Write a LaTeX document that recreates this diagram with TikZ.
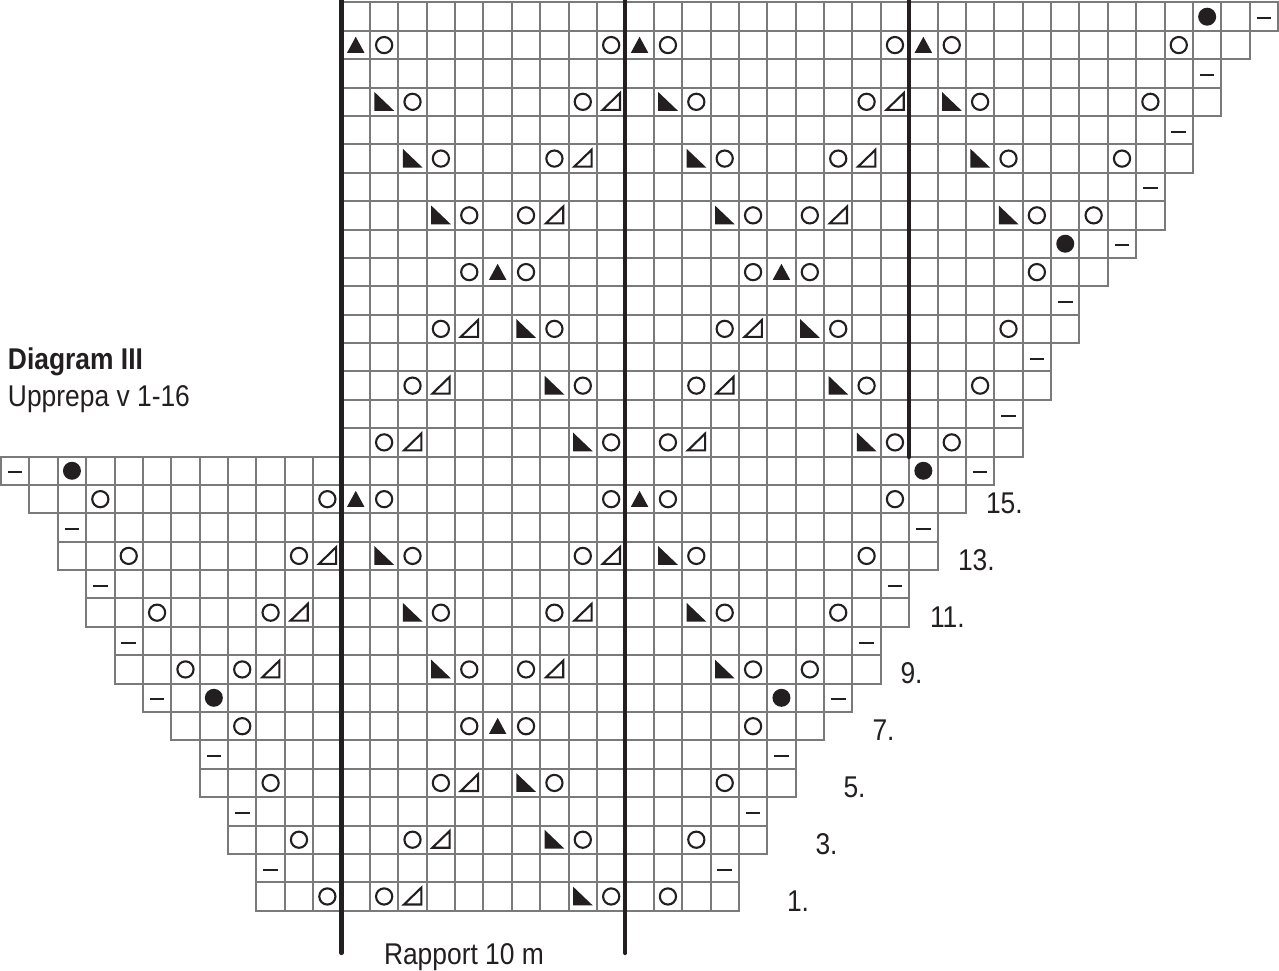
\documentclass[tikz,border=0pt]{standalone}
\usepackage{fontspec}
\setmainfont[FakeStretch=0.88]{Liberation Sans}
\definecolor{ink}{HTML}{231F20}
\definecolor{gridc}{HTML}{7A7A7A}
\newcommand{\CW}{28.38}
\newcommand{\cellat}{({1+\CW*(\c+.5)},{2.5+\CW*(32-\r+.5)})}
\tikzset{
  gridcell/.style={draw=gridc,line width=2pt,fill=white},
  repline/.style={draw=ink,line width=4.2pt,line cap=round},
  mark stroke/.style={draw=ink,line width=2.1pt},
  mark fill/.style={fill=ink,draw=none},
  lbl/.style={anchor=base west,inner sep=0pt,outer sep=0pt,text=ink,font=\fontsize{30}{36}\selectfont},
}
\begin{document}
\begin{tikzpicture}[x=1pt,y=-1pt]
\useasboundingbox[fill=white] (0,0) rectangle (1279,971);
% grid: row / first column / last column
\foreach \r/\a/\b in {32/12/44,31/12/43,30/12/42,29/12/42,28/12/41,27/12/41,26/12/40,25/12/40,
  24/12/39,23/12/38,22/12/37,21/12/37,20/12/36,19/12/36,18/12/35,17/12/35,
  16/0/34,15/1/33,14/2/32,13/2/32,12/3/31,11/3/31,10/4/30,9/4/30,8/5/29,7/6/28,6/7/27,5/7/27,4/8/26,3/8/26,2/9/25,1/9/25}{
  \foreach \c in {\a,...,\b}{
    \path[gridcell] ({1+\CW*\c},{2.5+\CW*(32-\r)}) rectangle ++(\CW,\CW);
  }
}
% repeat lines
\coordinate (la) at (341.4,-3);
\coordinate (lb) at (341.4,953);
\coordinate (ma) at (625.2,-3);
\coordinate (mb) at (625.2,953);
\coordinate (ra) at (909,-3);
\coordinate (rb) at (909,457);
\draw[repline] (la) -- (lb);
\draw[repline] (ma) -- (mb);
\draw[repline] (ra) -- (rb);
% yarn overs (open circles)
\foreach \r/\c in {31/13,31/21,31/23,31/31,31/33,31/41,
  29/14,29/20,29/24,29/30,29/34,29/40,
  27/15,27/19,27/25,27/29,27/35,27/39,
  25/16,25/18,25/26,25/28,25/36,25/38,
  23/16,23/18,23/26,23/28,23/36,
  21/15,21/19,21/25,21/29,21/35,
  19/14,19/20,19/24,19/30,19/34,
  17/13,17/21,17/23,17/31,17/33,
  15/3,15/11,15/13,15/21,15/23,15/31,
  13/4,13/10,13/14,13/20,13/24,13/30,
  11/5,11/9,11/15,11/19,11/25,11/29,
  9/6,9/8,9/16,9/18,9/26,9/28,
  7/8,7/16,7/18,7/26,
  5/9,5/15,5/19,5/25,
  3/10,3/14,3/20,3/24,
  1/11,1/13,1/21,1/23}{
  \draw[mark stroke,shift={\cellat}] (0,0) circle (8.1);
}
% filled circles
\foreach \r/\c in {32/42,24/37,16/2,16/32,8/7,8/27}{
  \fill[mark fill,shift={\cellat}] (0,0) circle (9);
}
% filled up triangles
\foreach \r/\c in {31/12,31/22,31/32,23/17,23/27,15/12,15/22,7/17}{
  \fill[mark fill,shift={\cellat}] (0,-8.3) -- (8.7,7.7) -- (-8.7,7.7) -- cycle;
}
% filled right triangles
\foreach \r/\c in {29/13,29/23,29/33,27/14,27/24,27/34,25/15,25/25,25/35,
  21/18,21/28,19/19,19/29,17/20,17/30,
  13/13,13/23,11/14,11/24,9/15,9/25,
  5/18,3/19,1/20}{
  \fill[mark fill,shift={\cellat}] (-9.7,-9.8) -- (10,9) -- (-9.7,9) -- cycle;
}
% open right triangles
\foreach \r/\c in {29/21,29/31,27/20,27/30,25/19,25/29,
  21/16,21/26,19/15,19/25,17/14,17/24,
  13/11,13/21,11/10,11/20,9/9,9/19,
  5/16,3/15,1/14}{
  \draw[mark stroke,line join=miter,shift={\cellat}] (-8.5,8) -- (8.8,8) -- (8.8,-8.8) -- cycle;
}
% dashes
\foreach \r/\c in {32/44,30/42,28/41,26/40,24/39,22/37,20/36,18/35,
  16/0,16/34,14/2,14/32,12/3,12/31,10/4,10/30,8/5,8/29,6/7,6/27,4/8,4/26,2/9,2/25}{
  \draw[draw=ink,line width=2pt,shift={\cellat}] (-7.3,1.5) -- (7.3,1.5);
}
% texts
\node[lbl,font=\fontsize{30}{36}\selectfont\bfseries] (title) at (8,369) {Diagram III};
\node[lbl] (sub) at (8,406) {Upprepa v 1-16};
\node[lbl] (rap) at (384,964) {Rapport 10 m};
\node[lbl] (n15) at (986,513) {15.};
\node[lbl] (n13) at (958,570) {13.};
\node[lbl] (n11) at (930,627) {11.};
\node[lbl] (n9) at (900.5,683) {9.};
\node[lbl] (n7) at (872.5,740) {7.};
\node[lbl] (n5) at (843.5,797) {5.};
\node[lbl] (n3) at (815.5,854) {3.};
\node[lbl] (n1) at (787,911) {1.};
\end{tikzpicture}
\end{document}
